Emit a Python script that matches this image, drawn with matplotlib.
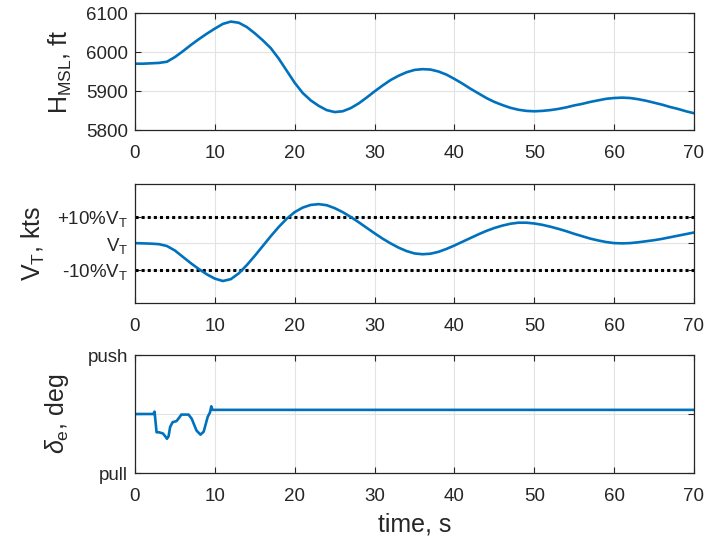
import matplotlib
matplotlib.use("Agg")
import matplotlib.pyplot as plt

plt.rcParams['font.family'] = ['Liberation Sans', 'DejaVu Sans']
plt.rcParams['mathtext.fontset'] = 'custom'
plt.rcParams['mathtext.rm'] = 'Liberation Sans'
plt.rcParams['mathtext.it'] = 'Liberation Sans:italic'
plt.rcParams['mathtext.bf'] = 'Liberation Sans:bold'

# ---- data ----
t_sec = list(range(0, 71))

h_msl = [5970, 5970, 5971, 5972, 5975, 5987, 6002, 6018, 6033, 6047,
         6060, 6072, 6078, 6075, 6064, 6048, 6030, 6010, 5983, 5952,
         5921, 5895, 5876, 5862, 5851, 5846, 5848, 5856, 5868, 5883,
         5899, 5914, 5928, 5939, 5948, 5954, 5956, 5955, 5950, 5942,
         5931, 5919, 5906, 5894, 5882, 5872, 5864, 5857, 5852, 5849,
         5848, 5849, 5851, 5854, 5858, 5863, 5867, 5872, 5876, 5880,
         5882, 5883, 5882, 5879, 5875, 5870, 5865, 5859, 5854, 5848,
         5843]

vt_dev_pct = [0.0, -0.1, -0.2, -0.4, -1.1, -2.8, -5.2, -7.6, -9.8, -11.8,
              -13.4, -14.3, -13.6, -11.4, -8.3, -4.8, -1.1, 2.6, 6.1, 9.2,
              11.7, 13.4, 14.4, 14.7, 14.3, 13.2, 11.7, 9.9, 7.9, 5.8,
              3.7, 1.7, -0.1, -1.7, -3.0, -3.9, -4.2, -4.0, -3.3, -2.2,
              -0.9, 0.5, 1.9, 3.3, 4.6, 5.7, 6.6, 7.3, 7.7, 7.7,
              7.4, 6.9, 6.2, 5.4, 4.5, 3.5, 2.6, 1.7, 1.0, 0.4,
              0.0, -0.1, 0.0, 0.3, 0.7, 1.1, 1.6, 2.2, 2.8, 3.4,
              4.0]

t_elev = [0, 2.3, 2.45, 2.7, 3.0, 3.5, 3.8, 4.0, 4.2, 4.4, 4.7, 5.2, 5.6, 5.8,
          6.7, 7.1, 7.7, 8.2, 8.6, 9.1, 9.4, 9.55, 9.7, 70]
elev = [0, 0, 0.04, -0.31, -0.31, -0.33, -0.38, -0.42, -0.38, -0.22, -0.14,
        -0.12, -0.05, -0.01, -0.01, -0.08, -0.28, -0.35, -0.30, -0.05, 0.03,
        0.13, 0.07, 0.07]

vt_band = [10, -10]
vt_ticks = [-10, 0, 10]
vt_ticklabels = ['-10%V$_\\mathrm{T}$', 'V$_\\mathrm{T}$', '+10%V$_\\mathrm{T}$']
elev_ticks = [-1, 0, 1]
elev_ticklabels = ['pull', '', 'push']
x_ticks = [0, 10, 20, 30, 40, 50, 60, 70]

# ---- style ----
blue = '#0072BD'
dark = '#262626'
fig = plt.figure(figsize=(7.06, 5.4), dpi=100)

left = 135 / 706
width = (694 - 135) / 706
pos = [(13, 130), (184, 303), (355, 473)]
axes = []
for top, bot in pos:
    ax = fig.add_axes([left, 1 - bot / 540, width, (bot - top) / 540])
    axes.append(ax)

for ax in axes:
    ax.set_xlim(0, 70)
    ax.set_xticks(x_ticks)
    ax.grid(True, color='#e3e3e3', linewidth=0.8)
    ax.set_axisbelow(True)
    ax.tick_params(direction='in', length=4.5, width=0.8, colors=dark,
                   labelsize=13.5, top=True, right=True)
    ax.tick_params(axis='x', pad=11)
    ax.tick_params(axis='y', pad=5)
    for s in ax.spines.values():
        s.set_color(dark)
        s.set_linewidth(0.9)

ax1, ax2, ax3 = axes
ax1.plot(t_sec, h_msl, color=blue, lw=1.9)
ax1.set_ylim(5800, 6100)
ax1.set_yticks([5800, 5900, 6000, 6100])
ax1.set_ylabel('H$_\\mathrm{MSL}$, ft', fontsize=18, color=dark, labelpad=9)

for v in vt_band:
    ax2.axhline(v, color='black', lw=2.2, linestyle=(0, (1, 1)), dash_capstyle='butt')
ax2.plot(t_sec, vt_dev_pct, color=blue, lw=1.9)
ax2.set_ylim(-22.6, 22.3)
ax2.set_yticks(vt_ticks)
ax2.set_yticklabels(vt_ticklabels)
ax2.set_ylabel('V$_\\mathrm{T}$, kts', fontsize=18, color=dark, labelpad=7)

ax3.plot(t_elev, elev, color=blue, lw=1.9)
ax3.set_ylim(-1, 1)
ax3.set_yticks(elev_ticks)
ax3.set_yticklabels(elev_ticklabels)
ax3.set_ylabel('$\\delta_\\mathrm{e}$, deg', fontsize=18, color=dark, labelpad=12)
ax3.set_xlabel('time, s', fontsize=18, color=dark, labelpad=5)

fig.savefig('out.png', dpi=100)
